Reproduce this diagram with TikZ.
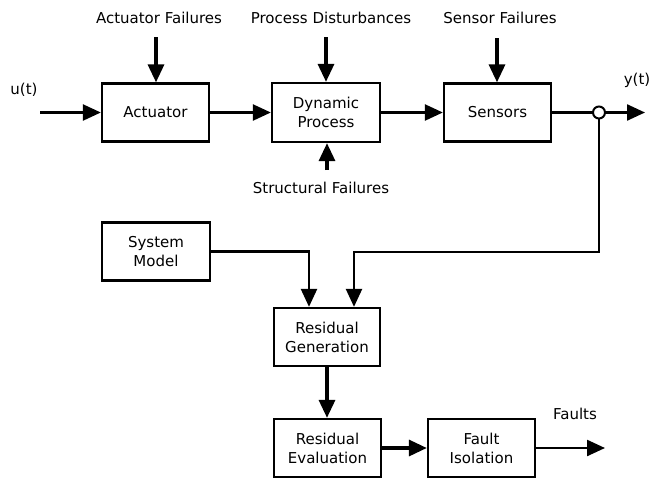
\documentclass[tikz,border=0pt]{standalone}
\usepackage{fontspec}
\setmainfont{DejaVu Sans}
\usetikzlibrary{arrows.meta,calc}
\begin{document}
\begin{tikzpicture}[x=1pt,y=-1pt,
  blk/.style={draw,line width=2.3pt,minimum width=107pt,minimum height=58pt,inner sep=0pt,align=center,font=\fontsize{15}{19}\selectfont},
  lbl/.style={inner sep=0pt,font=\fontsize{15}{19}\selectfont},
  thinar/.style={line width=2.4pt,-{Triangle[length=18pt,width=16pt]}},
  thickar/.style={line width=3.3pt,-{Triangle[length=18pt,width=16pt]}}]
\useasboundingbox (0,0) rectangle (651,480);

\node[blk] (act) at (155.5,112.5) {Actuator};
\node[blk,minimum width=108pt,minimum height=59pt] (dyn) at (326,112.5) {Dynamic\\Process};
\node[blk] (sen) at (497.5,112.5) {Sensors};
\node[blk,minimum width=108pt] (sm) at (156,251.5) {System\\Model};
\node[blk,minimum width=106pt] (rg) at (327,337) {Residual\\Generation};
\node[blk] (re) at (327.5,448) {Residual\\Evaluation};
\node[blk] (fi) at (481.5,448) {Fault\\Isolation};

\node[lbl] (af) at (159,18) {Actuator Failures};
\node[lbl] (pd) at (331,18) {Process Disturbances};
\node[lbl] (sf) at (500,18) {Sensor Failures};
\node[lbl] (stf) at (321,188) {Structural Failures};
\node[lbl] (u) at (24,90) {u(t)};
\node[lbl] (y) at (637,80) {y(t)};
\node[lbl] (fl) at (575,414) {Faults};

\coordinate (afs) at (156,37);
\coordinate (pds) at (326,37);
\coordinate (sfs) at (497,38);
\coordinate (stfs) at (327,170);
\coordinate (uin) at (40,112.5);
\coordinate (yout) at (645,112.5);
\coordinate (fout) at (605,448);
\coordinate (tap) at (599,112.5);
\coordinate (rgA) at ($(rg.north)+(-18,0)$);
\coordinate (rgB) at ($(rg.north)+(27,0)$);
\coordinate (bend) at (354,252);

\draw[thickar] (afs) -- (afs |- act.north);
\draw[thickar] (pds) -- (pds |- dyn.north);
\draw[thickar] (sfs) -- (sfs |- sen.north);
\draw[thickar] (stfs) -- (stfs |- dyn.south);
\draw[thinar] (uin) -- (uin -| act.west);
\draw[thinar] (act.east) -- (act.east -| dyn.west);
\draw[thinar] (dyn.east) -- (dyn.east -| sen.west);
\draw[thinar] (sen.east) -- (yout);
\draw[thinar] (tap) |- (bend) -- (rgB);
\draw[thinar] (sm.east) -| (rgA);
\draw[fill=white,line width=2pt] (tap) circle (6pt);
\draw[thickar] (rg.south) -- (rg.south |- re.north);
\draw[thickar] (re.east) -- (fi.west);
\draw[thinar] (fi.east) -- (fout);
\end{tikzpicture}
\end{document}
